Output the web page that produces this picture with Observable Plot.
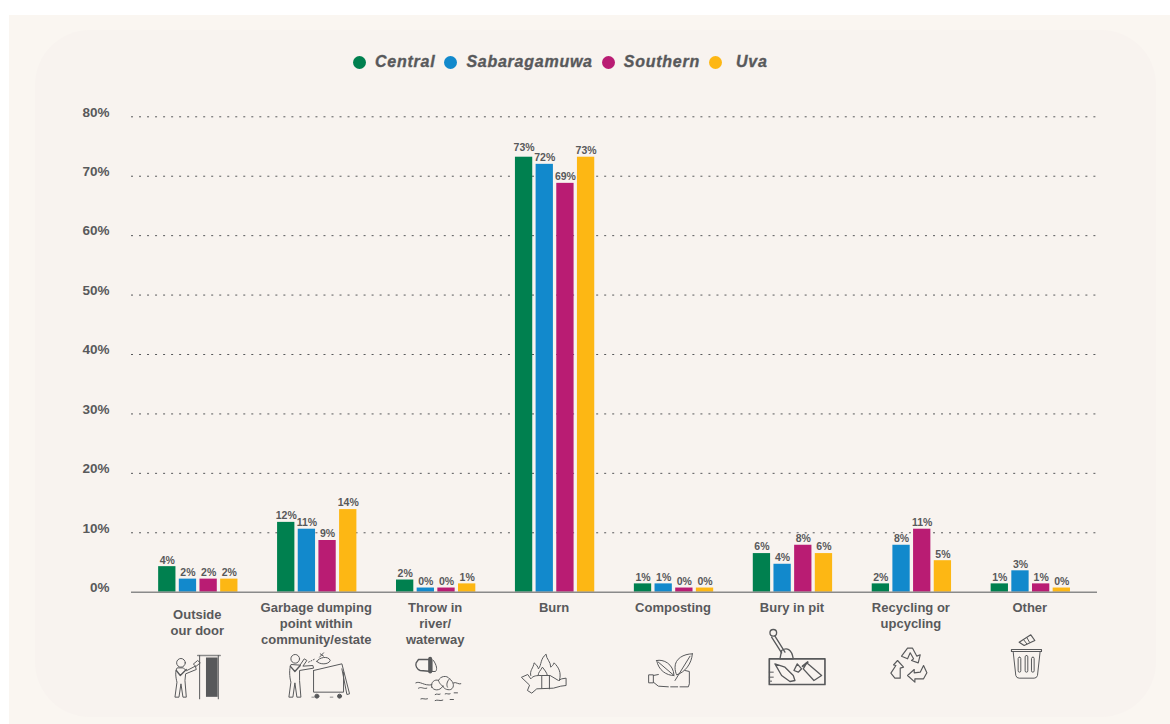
<!DOCTYPE html>
<html><head><meta charset="utf-8">
<script src="https://cdn.jsdelivr.net/npm/d3@7"></script>
<script src="https://cdn.jsdelivr.net/npm/@observablehq/plot@0.6"></script>
<style>
html,body{margin:0;padding:0;background:#fff;width:1170px;height:724px;overflow:hidden}
#outer{position:absolute;left:9px;top:15px;width:1161px;height:709px;background:#faf6f1}
#inner{position:absolute;left:35px;top:30px;width:1121px;height:687px;background:#f8f3ef;border-radius:55px}
#legend{position:absolute;left:353px;top:53px;height:18px;display:flex;align-items:center;font:italic bold 16px "Liberation Sans",sans-serif;letter-spacing:.75px;-webkit-text-stroke:.35px #58595b;color:#58595b;white-space:nowrap}
#legend span.d{display:inline-block;width:13px;height:13px;border-radius:50%;margin-right:9px;-webkit-text-stroke:0}
#legend span.t{margin-right:9px}
#legend span.t:last-child{margin-left:5px}
#chart{position:absolute;left:0;top:90px}
svg{overflow:visible}
</style></head><body>
<div id="outer"></div><div id="inner"></div>
<div id="legend"></div><div id="chart"></div>
<script>
const categories = ["Outside\nour door","Garbage dumping\npoint within\ncommunity/estate","Throw in\nriver/\nwaterway","Burn","Composting","Bury in pit","Recycling or\nupcycling","Other"];
const seriesNames = ["Central","Sabaragamuwa","Southern","Uva"];
const seriesColors = ["#00804f","#1289cc","#b91c73","#fdb714"];
const central      = [4.3,11.75,2.05,73.2,1.4,6.5,1.4,1.4];
const sabaragamuwa = [2.2,10.6,0.7,72,1.4,4.7,7.9,3.6];
const southern     = [2.2,8.7,0.7,68.8,0.7,7.9,10.6,1.4];
const uva          = [2.2,13.9,1.4,73.2,0.7,6.5,5.3,0.7];
const centralLabels      = ["4%","12%","2%","73%","1%","6%","2%","1%"];
const sabaragamuwaLabels = ["2%","11%","0%","72%","1%","4%","8%","3%"];
const southernLabels     = ["2%","9%","0%","69%","0%","8%","11%","1%"];
const uvaLabels          = ["2%","14%","1%","73%","0%","6%","5%","0%"];
const yTicks = [0,10,20,30,40,50,60,70,80];

const ink = "#58595b";
const font = '"Liberation Sans",sans-serif';

const valueSets = [central,sabaragamuwa,southern,uva];
const labelSets = [centralLabels,sabaragamuwaLabels,southernLabels,uvaLabels];
const slot = 0.1738, barW = 0.1455;
const rows = categories.flatMap((c,i)=>seriesNames.map((s,j)=>({
  i, series:s, value:valueSets[j][i], label:labelSets[j][i],
  x:i+(j-1.5)*slot
})));
const isTall = d => d.i===3 && d.series==="Central";

// line-art pictograms (decoration below each category)
function svgIcon(x0, zx, zy, body){
  const s = `<svg xmlns="http://www.w3.org/2000/svg" width="120" height="100" viewBox="${x0} 616 120 100" fill="none" stroke="${ink}" stroke-width="3" stroke-linejoin="round" stroke-linecap="round"><g transform="translate(${zx} ${zy}) scale(.33333)">${body}</g></svg>`;
  return "data:image/svg+xml;charset=utf-8,"+encodeURIComponent(s);
}
const icons = [
 svgIcon(138,160,645,`<circle cx="62" cy="52" r="13"/>
  <path d="M50 68C44 75 46 95 50 110L44 155H56L62 115L68 155H78L74 105L76 85L108 72L105 62L78 76L70 68Z"/>
  <path d="M48 75L60 90L78 72" stroke-width="4"/><path d="M100 55L112 45L120 52L108 62Z"/>
  <path d="M112 30H180" stroke-width="4" stroke="#8a8a8a"/><path d="M118 30V160M174 30V160"/>
  <rect x="137" y="36" width="35" height="118" fill="${ink}" stroke="none"/>`),
 svgIcon(257,160,645,`<circle cx="405" cy="40" r="13"/>
  <path d="M392 58C386 70 388 95 392 110L386 155H398L404 112L410 155H422L418 105L418 75L460 68L458 60L428 62L440 45L432 40L420 58Z"/>
  <path d="M390 62L404 78L420 60" stroke-width="4"/>
  <path d="M460 75L545 55L568 145L560 147L545 70"/><path d="M460 75V140H550V80"/>
  <circle cx="470" cy="152" r="6" fill="${ink}"/><circle cx="538" cy="152" r="6" fill="${ink}"/>
  <path d="M470 48C475 35 505 30 510 45C505 58 478 58 470 48Z"/><path d="M480 25L490 32M478 35L490 22"/>
  <path d="M445 50L465 40" stroke-dasharray="3 5"/><path d="M455 155H462M510 155H518" stroke-width="2"/>`),
 svgIcon(376,160,645,`<path d="M775 42H815V78L780 75C770 72 765 60 768 52Z" stroke-width="4"/>
  <path d="M820 45C830 60 832 72 826 78H815"/><path d="M810 40V78" stroke-width="12"/>
  <path d="M815 125C810 110 825 100 835 105C840 92 860 88 868 100C880 108 885 125 872 132C860 135 850 128 848 122C838 138 820 135 815 125Z"/>
  <path d="M835 105C838 115 845 122 850 122M868 100C860 108 858 118 862 125"/>
  <path d="M767 112C780 105 790 122 815 118M880 112C888 108 895 118 902 115M775 128C785 122 790 132 800 128M825 147C830 143 835 149 840 146M855 145C860 142 865 148 870 145M882 142H892M782 160C787 157 795 163 802 160M825 165C832 161 840 168 848 164M870 162H880"/>`),
 svgIcon(495,510,625,`<path d="M62 150C58 135 70 128 72 112C80 118 84 125 85 130C95 118 90 100 108 86C108 100 122 108 122 125C126 122 130 118 132 112C145 125 155 140 148 165"/>
  <path d="M84 150C84 140 92 135 97 125C102 132 110 140 112 150"/>
  <path d="M35 155L53 147L62 160C70 150 80 150 95 150L120 150L145 165L155 160L168 158V180L152 182L130 188L80 190L65 203L52 195L58 180Z"/>
  <path d="M95 150V188M118 150V190"/>`),
 svgIcon(614,510,625,`<path d="M440 105C460 100 490 115 492 150C470 150 445 135 440 105ZM445 110L492 150"/>
  <path d="M547 85C520 85 495 100 495 125C495 135 498 145 500 148C525 140 545 115 547 85ZM540 92L495 165"/>
  <path d="M417 148H430V172H417ZM430 150L445 147M430 170L445 182L475 184M482 184H503M510 184H535L538 175V138L525 135"/>`),
 svgIcon(733,510,625,`<g stroke-width="4"><circle cx="790" cy="22" r="10"/><path d="M795 32L825 80M785 35L815 82"/>
  <path d="M815 75C830 65 845 70 850 100H810Z"/>
  <rect x="778" y="100" width="167" height="77" stroke-width="5"/>
  <path d="M795 115L825 125L850 150L855 165L840 168L815 150Z"/><path d="M852 135L862 115L875 130L865 140Z"/>
  <path d="M890 112L900 120L935 150L912 165L880 130Z"/><path d="M878 122L893 110" stroke-width="6"/>
  <path d="M778 140H790M778 155H790M778 167H785" stroke-width="3"/></g>`),
 svgIcon(851,880,625,`<g stroke-width="3.500"><path d="M62 92L80 68H95L108 92L118 88L112 112L92 105L98 100L88 82L80 100Z"/>
  <path d="M50 105L68 125L58 128V158H42L30 143L45 120L38 118Z"/>
  <path d="M80 150L100 132V142L118 140L128 120L138 142L128 160H102V170Z"/></g>`),
 svgIcon(970,880,625,`<path d="M392 72H482V78H392Z" stroke-width="3.500"/>
  <path d="M397 78L405 150Q407 158 415 158H460Q468 158 470 150L478 78"/>
  <rect x="412" y="95" width="8" height="45" rx="4"/><rect x="433" y="90" width="8" height="50" rx="4"/><rect x="452" y="95" width="8" height="45" rx="4"/>
  <path d="M415 50L450 28L462 45L430 60Z" stroke-width="3.500"/><path d="M428 42L438 55M438 36L446 50"/>`)
];
const iconRows = icons.map((src,i)=>({i,src}));

const labelStyle = {fontSize:10.5,fontWeight:"bold",fill:ink,stroke:"#f8f3ef",strokeWidth:1.2,paintOrder:"stroke"};
const catStyle = {anchor:"bottom",tickSize:0,lineHeight:1.24,lineAnchor:"top",tickFormat:i=>categories[i],fontSize:13,fontWeight:"bold",fill:ink,label:null,dx:-1,style:{letterSpacing:"0.3px"}};

const chart = Plot.plot({
  width:1170, height:634,
  marginTop:26.3, marginBottom:132.3, marginLeft:131, marginRight:73,
  style:{background:"transparent",fontFamily:font,color:ink,overflow:"visible"},
  x:{type:"linear",domain:[(131-197.8)/118.93,(1097-197.8)/118.93],axis:null},
  y:{domain:[0,80],axis:null},
  color:{domain:seriesNames,range:seriesColors},
  marks:[
    Plot.ruleY(yTicks.slice(1),{stroke:ink,strokeWidth:1,strokeDasharray:"2 6.02"}),
    Plot.axisY(yTicks,{anchor:"left",tickSize:0,tickPadding:22,dy:-4.5,tickFormat:d=>d+"%",fontSize:13.5,fontWeight:"bold",fill:ink,label:null}),
    Plot.rectY(rows,{x1:d=>d.x-barW/2,x2:d=>d.x+barW/2,y1:0,y2:"value",fill:"series"}),
    Plot.ruleY([0],{stroke:"#8a8a8a",strokeWidth:1.5}),
    Plot.text(rows,{filter:d=>!isTall(d),x:"x",y:"value",text:"label",dy:-6.5,...labelStyle}),
    Plot.text(rows,{filter:isTall,x:"x",y:"value",text:"label",dy:-10,...labelStyle}),
    Plot.axisX([1,2,3,4,5,6,7],{...catStyle,tickPadding:8}),
    Plot.axisX([0],{...catStyle,tickPadding:15}),
    Plot.image(iconRows,{x:"i",y:()=>0,src:"src",width:120,height:100,dy:74.3})
  ]
});
document.getElementById("chart").append(chart);

const legend = document.getElementById("legend");
seriesNames.forEach((s,j)=>{
  const d=document.createElement("span");d.className="d";d.style.background=seriesColors[j];
  const t=document.createElement("span");t.className="t";t.textContent=s;
  legend.append(d,t);
});
</script>
</body></html>
